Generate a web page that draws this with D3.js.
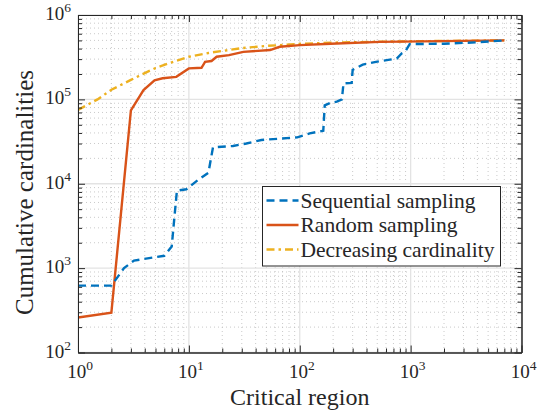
<!DOCTYPE html>
<html>
<head>
<meta charset="utf-8">
<script src="https://cdn.jsdelivr.net/npm/d3@7"></script>
<style>
  body { margin: 0; background: #fff; }
</style>
</head>
<body>
<script>
// x: critical region, y: cumulative cardinalities
var sequential = [
  [1, 620], [2, 620], [2.6, 1000], [3.2, 1230], [6, 1400], [7, 1800], [7.8, 8300], [9.5, 8600],
  [12, 11000], [15, 13500], [16.5, 27000], [25, 28000], [33, 30000], [45, 33000], [95, 35500],
  [123, 39500], [163, 42500], [168, 85000], [190, 91000], [216, 94000], [240, 100000],
  [248, 155000], [294, 157000], [300, 224000], [370, 258000], [500, 280000], [650, 296000],
  [750, 305000], [830, 350000], [890, 366000], [980, 452000], [2000, 457000], [4000, 475000],
  [7000, 500000]
];
var random = [
  [1, 260], [2, 296], [3, 74000], [3.9, 129000], [4.9, 168000], [5.8, 178000], [7.7, 185000],
  [10, 233000], [13, 237000], [14, 278000], [16, 285000], [17.8, 320000], [23, 335000],
  [31, 366000], [54, 384000], [66, 420000], [100, 440000], [190, 457000], [530, 480000],
  [7000, 500000]
];
var decreasing = [
  [1, 75000], [1.5, 100000], [2, 130000], [3, 170000], [4, 205000], [5, 235000], [7, 275000],
  [10, 320000], [15, 355000], [20, 375000], [30, 405000], [50, 430000], [100, 455000],
  [200, 470000], [500, 482000], [1000, 488000], [3000, 495000], [7000, 500000]
];
var seriesNames = ["Sequential sampling", "Random sampling", "Decreasing cardinality"];
var xTicks = [1, 10, 100, 1000, 10000];
var yTicks = [100, 1000, 10000, 100000, 1000000];

var FONT = "'Liberation Serif'";
var INK = "#262626";

var margin = { top: 15, right: 24.5, bottom: 60.5, left: 78 },
    width = 546 - margin.left - margin.right,
    height = 413 - margin.top - margin.bottom;

var svg = d3.select("body").append("svg")
    .attr("width", 546)
    .attr("height", 413);

var g = svg.append("g")
    .attr("transform", "translate(" + margin.left + "," + margin.top + ")");

var x = d3.scaleLog().domain([1, 10000]).range([0, width]);
var y = d3.scaleLog().domain([100, 1000000]).range([height, 0]);

// minor tick values (2..9 in each decade)
function minors(lo, hi) {
  var out = [];
  for (var p = lo; p < hi; p++) {
    for (var k = 2; k <= 9; k++) out.push(k * Math.pow(10, p));
  }
  return out;
}
var xMinor = minors(0, 4), yMinor = minors(2, 6);

// grid
g.selectAll(".xminor").data(xMinor).enter().append("line")
    .attr("x1", d => x(d)).attr("x2", d => x(d)).attr("y1", 0).attr("y2", height)
    .attr("stroke", "#bdbdbd").attr("stroke-width", 0.8).attr("stroke-dasharray", "1,3");
g.selectAll(".yminor").data(yMinor).enter().append("line")
    .attr("y1", d => y(d)).attr("y2", d => y(d)).attr("x1", 0).attr("x2", width)
    .attr("stroke", "#bdbdbd").attr("stroke-width", 0.8).attr("stroke-dasharray", "1,3");
g.selectAll(".xmajor").data(xTicks).enter().append("line")
    .attr("x1", d => x(d)).attr("x2", d => x(d)).attr("y1", 0).attr("y2", height)
    .attr("stroke", "#e3e3e3").attr("stroke-width", 1.3);
g.selectAll(".ymajor").data(yTicks).enter().append("line")
    .attr("y1", d => y(d)).attr("y2", d => y(d)).attr("x1", 0).attr("x2", width)
    .attr("stroke", "#e3e3e3").attr("stroke-width", 1.3);

// lines
g.append("clipPath").attr("id", "clip").append("rect")
    .attr("width", width).attr("height", height);

var line = d3.line().x(d => x(d[0])).y(d => y(d[1]));
var styles = [
  { data: sequential, color: "#0072BD", dash: "8,5" },
  { data: random, color: "#D95319", dash: null },
  { data: decreasing, color: "#EDB120", dash: "8,4,2.5,4" }
];
styles.slice().reverse().forEach(function(s) {
  g.append("path")
      .datum(s.data)
      .attr("clip-path", "url(#clip)")
      .attr("d", line)
      .attr("fill", "none")
      .attr("stroke", s.color)
      .attr("stroke-width", 2.4)
      .attr("stroke-dasharray", s.dash);
});

// axes with inward ticks on all four sides
function axis(gen, scale, vals, size, tr) {
  var a = g.append("g").attr("transform", tr)
      .call(gen(scale).tickValues(vals).tickSize(size).tickFormat("").tickSizeOuter(0));
  a.select(".domain").attr("stroke", INK);
  a.selectAll(".tick line").attr("stroke", INK);
  return a;
}
axis(d3.axisBottom, x, xTicks, -7, "translate(0," + height + ")");
axis(d3.axisBottom, x, xMinor, -4, "translate(0," + height + ")");
axis(d3.axisTop, x, xTicks, -7, "translate(0,0)");
axis(d3.axisTop, x, xMinor, -4, "translate(0,0)");
axis(d3.axisLeft, y, yTicks, -7, "translate(0,0)");
axis(d3.axisLeft, y, yMinor, -4, "translate(0,0)");
axis(d3.axisRight, y, yTicks, -7, "translate(" + width + ",0)");
axis(d3.axisRight, y, yMinor, -4, "translate(" + width + ",0)");

// tick labels 10^n
function powLabel(sel) {
  sel.style("font-family", FONT).style("font-size", "19px").attr("fill", INK)
    .each(function(d) {
      var t = d3.select(this);
      t.append("tspan").text("10");
      t.append("tspan").attr("dy", -8).style("font-size", "13.5px").text(Math.round(Math.log10(d)));
    });
}
g.selectAll(".xlab").data(xTicks).enter().append("text")
    .attr("x", d => x(d) + 2).attr("y", height + 25)
    .attr("text-anchor", "middle")
    .call(powLabel);
g.selectAll(".ylab").data(yTicks).enter().append("text")
    .attr("x", -7).attr("y", d => y(d) + 5)
    .attr("text-anchor", "end")
    .call(powLabel);

// axis titles
svg.append("text")
    .attr("x", margin.left + width / 2).attr("y", 405)
    .attr("text-anchor", "middle")
    .style("font-family", FONT).style("font-size", "24px").attr("fill", INK)
    .text("Critical region");
svg.append("text")
    .attr("transform", "translate(32.5,192.5) rotate(-90)")
    .attr("text-anchor", "middle")
    .style("font-family", FONT).style("font-size", "25px").attr("fill", INK)
    .text("Cumulative cardinalities");

// legend
var legend = svg.append("g").attr("transform", "translate(262.5,186.5)");
legend.append("rect")
    .attr("width", 238).attr("height", 79.5)
    .attr("fill", "#fff").attr("stroke", INK).attr("stroke-width", 1);
styles.forEach(function(s, i) {
  var yy = 14 + i * 24.5;
  legend.append("line")
      .attr("x1", 4).attr("x2", 36).attr("y1", yy).attr("y2", yy)
      .attr("stroke", s.color).attr("stroke-width", 2.4)
      .attr("stroke-dasharray", s.dash);
  legend.append("text")
      .attr("x", 38).attr("y", yy + 7)
      .style("font-family", FONT).style("font-size", "21.5px").attr("fill", INK)
      .text(seriesNames[i]);
});
</script>
</body>
</html>
